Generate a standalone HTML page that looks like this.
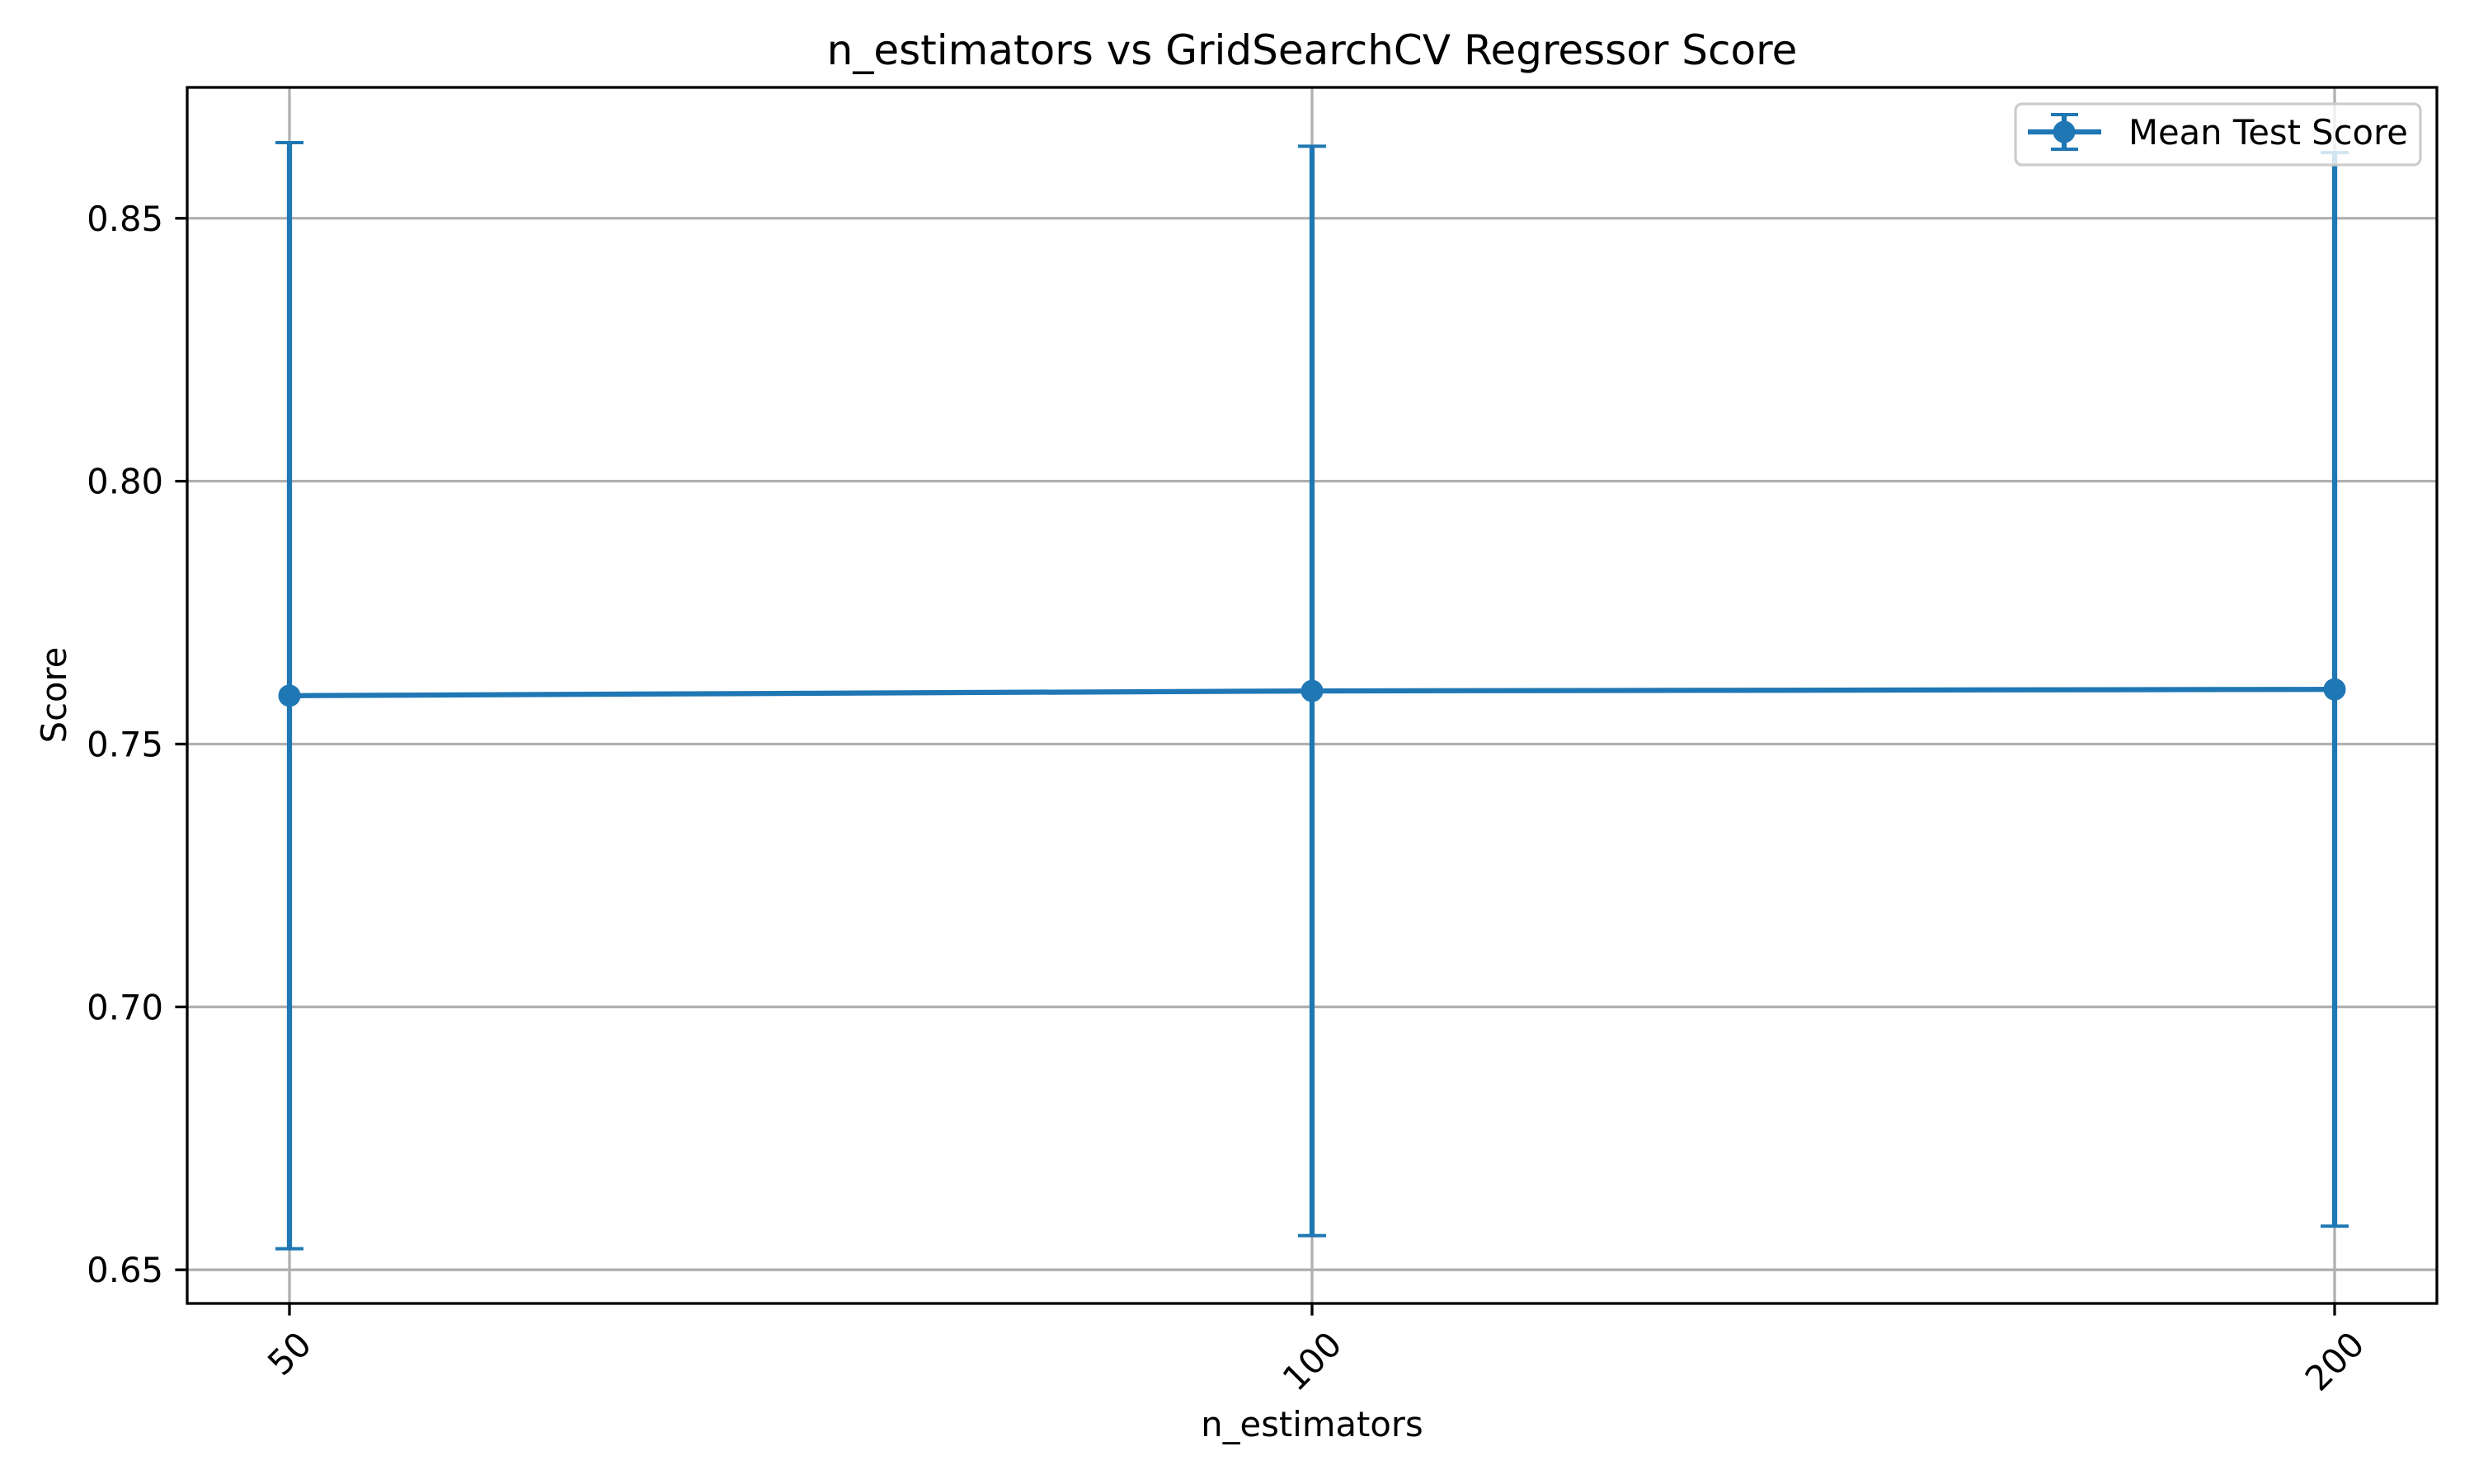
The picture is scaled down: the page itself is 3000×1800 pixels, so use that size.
<!DOCTYPE html>
<html><head><meta charset="utf-8"><style>
html,body{margin:0;padding:0;background:#fff}
svg{display:block}
text{font-family:"DejaVu Sans","Liberation Sans",sans-serif;fill:#000}
</style></head><body>
<svg id="chart" width="3000" height="1800" viewBox="0 0 3000 1800" xmlns="http://www.w3.org/2000/svg">
<rect width="3000" height="1800" fill="#fff"/>
<g id="grid"></g>
<g id="series"></g>
<rect x="227" y="106" width="2728" height="1475" fill="none" stroke="#000" stroke-width="3.3"/>
<g id="ticks"></g>
<text x="1591" y="78" font-size="50" text-anchor="middle">n_estimators vs GridSearchCV Regressor Score</text>
<text x="1591" y="1742" font-size="41.7" text-anchor="middle">n_estimators</text>
<text x="0" y="0" font-size="41.7" text-anchor="middle" transform="translate(80,843) rotate(-90)">Score</text>
<g>
<rect x="2444" y="126" width="491" height="74" rx="8" fill="#fff" fill-opacity="0.8" stroke="#cccccc" stroke-width="3.3"/>
<g>
<line x1="2459" y1="160" x2="2548" y2="160" stroke="#1f77b4" stroke-width="6.25"/>
<line x1="2503" y1="139" x2="2503" y2="181" stroke="#1f77b4" stroke-width="6.25"/>
<line x1="2487" y1="139" x2="2520" y2="139" stroke="#1f77b4" stroke-width="4"/>
<line x1="2487" y1="181" x2="2520" y2="181" stroke="#1f77b4" stroke-width="4"/>
<circle cx="2503" cy="160" r="13.5" fill="#1f77b4"/>
<text x="2581" y="175" font-size="41.7">Mean Test Score</text>
</g>
</g>
</svg>
<script>
const categories = ["50", "100", "200"];
const meanScores = [0.7592, 0.7601, 0.7604];
const errors = [0.1052, 0.1036, 0.1021];
const yTicks = [0.65, 0.70, 0.75, 0.80, 0.85];
const yTickLabels = ["0.65", "0.70", "0.75", "0.80", "0.85"];

const NS = "http://www.w3.org/2000/svg";
const L = 227, R = 2955, T = 106, B = 1581;
const xMin = -0.1, xMax = categories.length - 1 + 0.1;
const yMin = 0.6436, yMax = 0.8749;
const xs = i => L + (i - xMin) / (xMax - xMin) * (R - L);
const ys = v => B - (v - yMin) / (yMax - yMin) * (B - T);
function mk(tag, attrs, parent) {
  const e = document.createElementNS(NS, tag);
  for (const k in attrs) e.setAttribute(k, attrs[k]);
  parent.appendChild(e);
  return e;
}
const grid = document.getElementById('grid');
const series = document.getElementById('series');
const ticks = document.getElementById('ticks');

yTicks.forEach((v, i) => {
  const y = ys(v);
  const g = mk('line', {x1: L, x2: R, y1: y, y2: y, stroke: '#b0b0b0', 'stroke-width': 3.3}, grid);
  
  
  const t = mk('line', {x1: L - 14.6, x2: L, y1: y, y2: y, stroke: '#000', 'stroke-width': 3.3}, ticks);
  
  
  const lb = mk('text', {x: L - 29, y: y + 15, 'font-size': 41.7, 'text-anchor': 'end'}, ticks);
  lb.textContent = yTickLabels[i];
  
  
});

categories.forEach((c, i) => {
  const x = xs(i);
  const g = mk('line', {x1: x, x2: x, y1: T, y2: B, stroke: '#b0b0b0', 'stroke-width': 3.3}, grid);
  
  
  const t = mk('line', {x1: x, x2: x, y1: B, y2: B + 14.6, stroke: '#000', 'stroke-width': 3.3}, ticks);
  
  
  const w = c.length * 26.5;
  const cy = B + 31 + (w * 0.707 + 22) / 2;
  const lb = mk('text', {x: 0, y: 0, 'font-size': 41.7, 'text-anchor': 'middle', 'dominant-baseline': 'central', transform: `translate(${x},${cy}) rotate(-45)`}, ticks);
  lb.textContent = c;
  
  
});

categories.forEach((c, i) => {
  const x = xs(i);
  const yt = ys(meanScores[i] + errors[i]), yb = ys(meanScores[i] - errors[i]);
  const e = mk('line', {x1: x, x2: x, y1: yt, y2: yb, stroke: '#1f77b4', 'stroke-width': 6.25}, series);
  
  
  [yt, yb].forEach(yy => {
    const cp = mk('line', {x1: x - 17, x2: x + 17, y1: yy, y2: yy, stroke: '#1f77b4', 'stroke-width': 4}, series);
    
    
  });
});
const pts = meanScores.map((v, i) => xs(i) + ',' + ys(v)).join(' ');
const pl = mk('polyline', {points: pts, fill: 'none', stroke: '#1f77b4', 'stroke-width': 6.25, 'stroke-linejoin': 'round'}, series);


meanScores.forEach((v, i) => {
  const p = mk('circle', {cx: xs(i), cy: ys(v), r: 13.5, fill: '#1f77b4'}, series);
  
  
});
</script>
</body></html>
